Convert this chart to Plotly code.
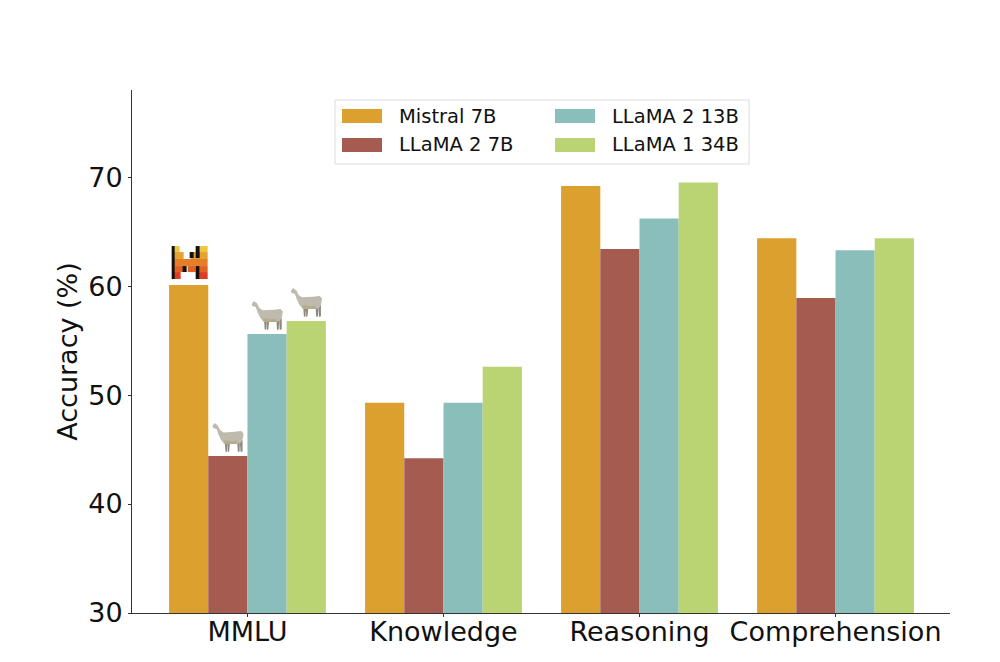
import plotly.graph_objects as go

categories = ["MMLU", "Knowledge", "Reasoning", "Comprehension"]
series_names = ["Mistral 7B", "LLaMA 2 7B", "LLaMA 2 13B", "LLaMA 1 34B"]
mistral_7b = [60.1, 49.3, 69.2, 64.4]
llama2_7b = [44.4, 44.2, 63.4, 58.9]
llama2_13b = [55.6, 49.3, 66.2, 63.3]
llama1_34b = [56.8, 52.6, 69.5, 64.4]
y_ticks = [30, 40, 50, 60, 70]
colors = ["#DCA02E", "#A65B50", "#8ABEBA", "#BAD474"]
series = [mistral_7b, llama2_7b, llama2_13b, llama1_34b]

W, H = 1000, 662
L, R, T, B = 132, 950, 90, 613
FONT = "DejaVu Sans"
fig = go.Figure()
for name, vals, col in zip(series_names, series, colors):
    fig.add_trace(go.Bar(name=name, x=categories, y=vals, marker=dict(color=col, line=dict(width=0)), showlegend=False))

shapes, annotations = [], []

def px(x):
    return (x - L) / (R - L)

def py(y):
    return (B - y) / (B - T)

# legend drawn to match the wide swatches of the reference
shapes.append(dict(type="rect", xref="paper", yref="paper", x0=px(335), x1=px(749), y0=py(164), y1=py(100),
                   line=dict(color="#DCDCDC", width=1), fillcolor="rgba(255,255,255,0.85)", layer="above"))
slots = [(342, 109), (342, 138), (555, 109), (555, 138)]
for (sx, sy), name, col in zip(slots, series_names, colors):
    shapes.append(dict(type="rect", xref="paper", yref="paper", x0=px(sx), x1=px(sx + 40), y0=py(sy + 14), y1=py(sy),
                       line=dict(width=0), fillcolor=col, layer="above"))
    annotations.append(dict(xref="paper", yref="paper", x=px(sx + 55), y=py(sy + 7), text=name, showarrow=False,
                            xanchor="left", yanchor="middle", font=dict(family=FONT, size=19.5, color="#111111")))

BAR_PX = 39.2

def icon_offset(i):
    return (i - 1.5) * BAR_PX

def anchored(path_pts, i, value, fill):
    dx = icon_offset(i)
    d = "M" + "L".join(f"{x + dx:.1f},{y:.1f}" for x, y in path_pts) + "Z"
    shapes.append(dict(type="path", path=d, xref="x", yref="y", xsizemode="pixel", ysizemode="pixel",
                       xanchor=0, yanchor=value, fillcolor=fill, line=dict(width=0), layer="above"))

def z(points):
    return [(zx / 3 - 20, 38 - zy / 3) for zx, zy in points]

llama_body = z([(14, 24), (20, 15), (30, 22), (37, 36), (47, 43), (80, 41), (100, 39), (107, 46), (105, 62),
                (99, 74), (88, 78), (60, 78), (48, 76), (40, 66), (32, 50), (26, 33), (16, 30)])
llama_belly = z([(50, 66), (70, 70), (88, 68), (88, 78), (60, 78), (48, 76)])
llama_legs = [
    z([(51, 74), (59, 76), (58, 100), (53, 102)]),
    z([(59, 74), (66, 76), (64, 100), (60, 102)]),
    z([(88, 72), (96, 70), (95, 100), (90, 102)]),
    z([(96, 70), (104, 66), (104, 100), (98, 102)]),
]

for i, value in [(1, llama2_7b[0]), (2, llama2_13b[0]), (3, llama1_34b[0])]:
    for leg in llama_legs:
        anchored(leg, i, value, "#8F8A7C")
    anchored(llama_body, i, value, "#BEBAAE")
    anchored(llama_belly, i, value, "#B5AC8C")

def logo_rect(x0, y0, x1, y1, fill):
    # rectangle in pixels relative to the top-centre of the MMLU Mistral bar (y measured down from bar top)
    cx, top = 189, 285
    anchored([(x0 - cx, top - y0), (x1 - cx, top - y0), (x1 - cx, top - y1), (x0 - cx, top - y1)], 0, mistral_7b[0], fill)

logo_rows = [
    (246, 252, "#EFC63E", [(173, 180), (200, 208)]),
    (252, 259, "#E6A330", [(173, 184), (191, 208)]),
    (259, 266, "#E47F27", [(173, 208)]),
    (266, 272, "#E26024", [(173, 184), (188, 196), (200, 208)]),
    (272, 279, "#DD3D20", [(173, 181), (200, 208)]),
]
for y0, y1, col, spans in logo_rows:
    for x0, x1 in spans:
        logo_rect(x0, y0, x1, y1, col)
for x0, y0, x1, y1 in [(172, 246, 175, 279), (196, 246, 200, 258), (196, 266, 200, 279),
                       (190, 252, 194, 258), (183, 266, 187, 272)]:
    logo_rect(x0, y0, x1, y1, "#111111")

fig.update_layout(
    width=W, height=H, autosize=False,
    margin=dict(l=L, r=W - R, t=T, b=H - B, pad=0, autoexpand=False),
    paper_bgcolor="white", plot_bgcolor="white",
    barmode="group", bargap=0.2, bargroupgap=0,
    font=dict(family=FONT, color="#111111", size=27),
    shapes=shapes, annotations=annotations,
    xaxis=dict(range=[-0.589, 3.584], automargin=False, showgrid=False, zeroline=False, showline=True,
               linecolor="#333333", linewidth=1, ticks="outside", ticklen=3, tickwidth=1, tickcolor="#333333",
               tickfont=dict(size=27, family=FONT), ticklabelstandoff=-8),
    yaxis=dict(range=[30, 78], automargin=True, tickvals=y_ticks, showgrid=False, zeroline=False, showline=True,
               linecolor="#333333", linewidth=1, ticks="outside", ticklen=3, tickwidth=1, tickcolor="#333333",
               tickfont=dict(size=27, family=FONT),
               title=dict(text="Accuracy (%)", font=dict(size=27, family=FONT), standoff=2)),
)
fig.write_html("out.html", post_script="document.body.style.margin='0';", config=dict(displayModeBar=False))
